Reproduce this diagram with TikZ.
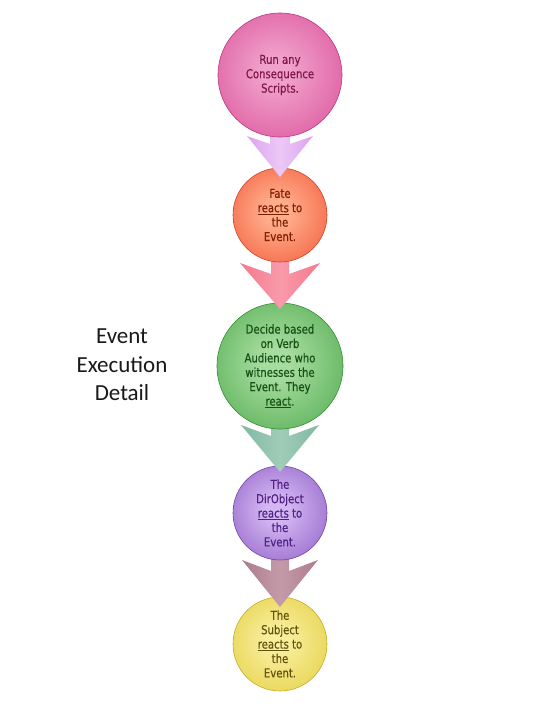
\documentclass[tikz,border=0pt]{standalone}
\usepackage{fontspec}
\usetikzlibrary{calc}
\newfontfamily\bubblefont[FakeStretch=0.82,FakeBold=0.4]{DejaVu Sans}
\newfontfamily\titlefont{Carlito}
\definecolor{p1in}{HTML}{F0A0CA}\definecolor{p1out}{HTML}{D64290}\definecolor{p1line}{HTML}{B83C7C}\definecolor{p1text}{HTML}{801848}
\definecolor{p2in}{HTML}{FFAE8C}\definecolor{p2out}{HTML}{F04C2C}\definecolor{p2line}{HTML}{CC4428}\definecolor{p2text}{HTML}{801E00}
\definecolor{p3in}{HTML}{A6DC9E}\definecolor{p3out}{HTML}{40A240}\definecolor{p3line}{HTML}{368E36}\definecolor{p3text}{HTML}{165016}
\definecolor{p4in}{HTML}{D4B6F2}\definecolor{p4out}{HTML}{8250BE}\definecolor{p4line}{HTML}{7044A8}\definecolor{p4text}{HTML}{4E2284}
\definecolor{p5in}{HTML}{F8EE9C}\definecolor{p5out}{HTML}{E0C830}\definecolor{p5line}{HTML}{C4AE28}\definecolor{p5text}{HTML}{62520C}
\definecolor{a1}{HTML}{DCA4EE}\definecolor{a1l}{HTML}{EBC8F6}
\definecolor{a2}{HTML}{F5788E}\definecolor{a2l}{HTML}{F99AAA}
\definecolor{a3}{HTML}{80B9A2}\definecolor{a3l}{HTML}{A0CCB8}
\definecolor{a4}{HTML}{AD7C8E}\definecolor{a4l}{HTML}{C49AA8}
\colorlet{cin}{white}\colorlet{cout}{gray}
\pgfdeclareradialshading[cin,cout]{ball}{\pgfpoint{-2bp}{2bp}}{color(0bp)=(cin); color(6bp)=(cin); color(42bp)=(cout); color(52bp)=(cout)}
\pgfdeclarelayer{L5}\pgfdeclarelayer{A4}\pgfdeclarelayer{L4}\pgfdeclarelayer{A3}
\pgfdeclarelayer{L3}\pgfdeclarelayer{A2}\pgfdeclarelayer{L2}\pgfdeclarelayer{A1}\pgfdeclarelayer{L1}
\pgfsetlayers{L5,A4,L4,A3,L3,A2,L2,A1,L1,main}
\begin{document}
\begin{tikzpicture}[x=1pt,y=-1pt,
  bubble/.style={circle, inner sep=0pt, outer sep=0pt, align=center, shading=ball,
    font=\bubblefont\fontsize{12.3}{14.4}\selectfont, line width=0.6pt},
  ballcol/.code 2 args={\colorlet{cin}{#1}\colorlet{cout}{#2}},
  blockarrow/.style 2 args={left color=#1, right color=#1, middle color=#2},
  title/.style={align=center, text=black!90, font=\titlefont\fontsize{23}{28.5}\selectfont}
]
\useasboundingbox (0,0) rectangle (540,720);

\begin{pgfonlayer}{L1}
\node[bubble, minimum size=124pt, ballcol={p1in}{p1out}, draw=p1line, text=p1text] (c1) at (280,75) {Run any\\Consequence\\Scripts.};
\end{pgfonlayer}
\begin{pgfonlayer}{L2}
\node[bubble, minimum size=94pt, ballcol={p2in}{p2out}, draw=p2line, text=p2text] (c2) at (280,215) {Fate\\\underline{reacts} to\\the\\Event.};
\end{pgfonlayer}
\begin{pgfonlayer}{L3}
\node[bubble, minimum size=126pt, ballcol={p3in}{p3out}, draw=p3line, text=p3text] (c3) at (280,366) {Decide based\\on Verb\\Audience who\\witnesses the\\Event. They\\\underline{react}.};
\end{pgfonlayer}
\begin{pgfonlayer}{L4}
\node[bubble, minimum size=94pt, ballcol={p4in}{p4out}, draw=p4line, text=p4text] (c4) at (280,513) {The\\DirObject\\\underline{reacts} to\\the\\Event.};
\end{pgfonlayer}
\begin{pgfonlayer}{L5}
\node[bubble, minimum size=94pt, ballcol={p5in}{p5out}, draw=p5line, text=p5text] (c5) at (280,644) {The\\Subject\\\underline{reacts} to\\the\\Event.};
\end{pgfonlayer}

\begin{pgfonlayer}{A1}
\shade[blockarrow={a1}{a1l}] ($(c1.center)+(-10,0)$) -- ($(c1.south)+(-10,7)$) -- ($(c1.south)+(-33,-1)$) -- ($(c2.north)+(0,9)$) -- ($(c1.south)+(33,-1)$) -- ($(c1.south)+(10,7)$) -- ($(c1.center)+(10,0)$) -- cycle;
\end{pgfonlayer}
\begin{pgfonlayer}{A2}
\shade[blockarrow={a2}{a2l}] ($(c2.center)+(-9,0)$) -- ($(c2.south)+(-9,12)$) -- ($(c2.south)+(-40,1)$) -- ($(c3.north)+(0,6)$) -- ($(c2.south)+(40,1)$) -- ($(c2.south)+(9,12)$) -- ($(c2.center)+(9,0)$) -- cycle;
\end{pgfonlayer}
\begin{pgfonlayer}{A3}
\shade[blockarrow={a3}{a3l}] ($(c3.center)+(-9,0)$) -- ($(c3.south)+(-9,7)$) -- ($(c3.south)+(-39,-4)$) -- ($(c4.north)+(0,6)$) -- ($(c3.south)+(39,-4)$) -- ($(c3.south)+(9,7)$) -- ($(c3.center)+(9,0)$) -- cycle;
\end{pgfonlayer}
\begin{pgfonlayer}{A4}
\shade[blockarrow={a4}{a4l}] ($(c4.center)+(-9,0)$) -- ($(c4.south)+(-9,11)$) -- ($(c4.south)+(-38,0)$) -- ($(c5.north)+(0,10)$) -- ($(c4.south)+(38,0)$) -- ($(c4.south)+(9,11)$) -- ($(c4.center)+(9,0)$) -- cycle;
\end{pgfonlayer}

\node[title] (t) at (122,365) {Event\\Execution\\Detail};
\end{tikzpicture}
\end{document}
